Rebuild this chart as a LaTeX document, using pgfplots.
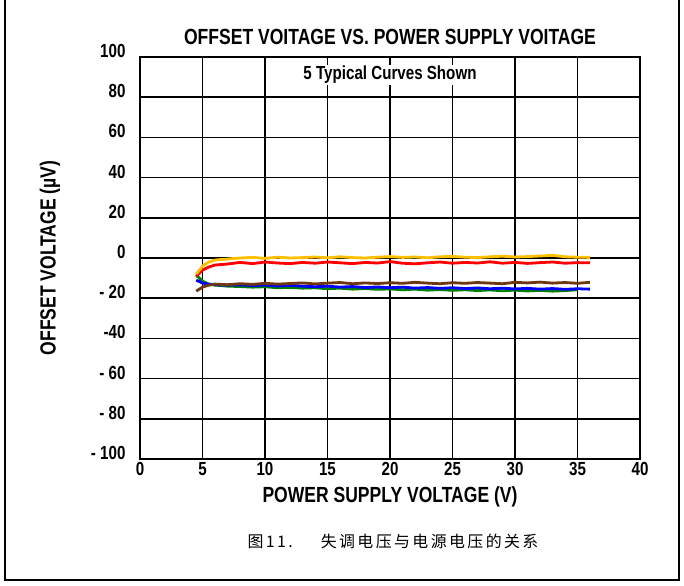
\documentclass[border=0pt]{standalone}
\usepackage{fontspec}
\setmainfont{Liberation Sans}[FakeStretch=0.8]
\newfontfamily\cjk{Noto Sans CJK SC}[LetterSpace=15]
\usepackage{pgfplots}
\pgfplotsset{compat=1.18}

\definecolor{cyel}{RGB}{255,192,0}
\definecolor{cred}{RGB}{255,0,0}
\definecolor{cbrown}{RGB}{112,56,16}
\definecolor{cblue}{RGB}{0,0,255}
\definecolor{cgreen}{RGB}{0,128,0}

\begin{document}
\begin{tikzpicture}
\path[use as bounding box] (0,0) rectangle (684bp,586bp);
\begin{axis}[
    at={(140bp,127bp)}, anchor=south west,
    scale only axis,
    width=500bp, height=402bp,
    xmin=0, xmax=40, ymin=-100, ymax=100,
    xtick={0,5,...,40},
    xticklabels={0,5,10,15,20,25,30,35,40},
    ytick={-100,-80,...,100},
    yticklabels={- 100,- 80,- 60,-40,- 20,0,20,40,60,80,100},
    /pgf/number format/assume math mode=true,
    tick style={draw=none},
    grid=major,
    grid style={black, line width=1.5bp},
    axis line style={black, line width=2.5bp},
    ticklabel style={font=\bfseries\fontsize{19}{21}\selectfont},
    yticklabel style={xshift=-11bp, yshift=6bp},
    title={OFFSET VOITAGE VS. POWER SUPPLY VOITAGE},
    title style={font=\bfseries\fontsize{22}{24}\selectfont, yshift=3bp},
    xlabel={POWER SUPPLY VOLTAGE (V)},
    xlabel style={font=\bfseries\fontsize{22}{24}\selectfont, yshift=-4bp},
    ylabel={OFFSET VOLTAGE (µV)},
    ylabel style={font=\bfseries\fontsize{22}{24}\selectfont,
                  at={(axis description cs:-0.18,0.5)}, anchor=center},
    every axis plot/.append style={line width=2.8bp, line join=round},
]
% green
\addplot[cgreen] coordinates {
(4.5,-8.5) (5,-11.5) (5.5,-13) (6,-13.5) (7,-14) (8,-14.2) (9,-14.5) (10,-14.3)
(11,-14.8) (12,-14.6) (13,-15.0) (14,-14.8) (15,-15.3) (16,-15.0) (17,-15.5)
(18,-15.2) (19,-15.6) (20,-15.4) (21,-15.8) (22,-15.5) (23,-16.0) (24,-15.7)
(25,-16.1) (26,-15.8) (27,-16.2) (28,-15.9) (29,-16.3) (30,-16.0) (31,-16.4)
(32,-16.1) (33,-16.5) (34,-16.2) (35,-15.8)
};
% blue
\addplot[cblue] coordinates {
(4.5,-11) (5,-12.5) (5.5,-13) (6,-13.3) (7,-13.5) (8,-13.4) (9,-13.7) (10,-13.5)
(11,-13.9) (12,-13.6) (13,-14.0) (14,-14.3) (15,-14.0) (16,-14.5) (17,-14.2)
(18,-14.7) (19,-14.4) (20,-14.8) (21,-14.5) (22,-15.0) (23,-14.7) (24,-15.1)
(25,-14.8) (26,-15.2) (27,-14.9) (28,-15.3) (29,-15.0) (30,-15.4) (31,-15.1)
(32,-15.5) (33,-15.2) (34,-15.6) (35,-15.3) (36,-15.5)
};
% brown
\addplot[cbrown] coordinates {
(4.5,-16.5) (5,-14.5) (5.5,-13.5) (6,-13) (7,-13.3) (8,-12.8) (9,-13.1) (10,-12.6)
(11,-13) (12,-12.7) (13,-12.4) (14,-12.9) (15,-12.5) (16,-12.2) (17,-12.8)
(18,-12.4) (19,-12.7) (20,-12.3) (21,-12.6) (22,-12.1) (23,-12.5) (24,-12.8)
(25,-12.3) (26,-12.6) (27,-12.2) (28,-12.5) (29,-12.8) (30,-12.1) (31,-12.4)
(32,-12.0) (33,-12.5) (34,-12.2) (35,-12.6) (36,-12.1)
};
% red
\addplot[cred] coordinates {
(4.5,-9) (5,-6) (5.5,-4.5) (6,-3.5) (7,-3) (8,-2.2) (9,-2.8) (10,-2) (11,-2.5)
(12,-2.8) (13,-2.2) (14,-2.6) (15,-2.0) (16,-2.4) (17,-2.8) (18,-2.2) (19,-2.5)
(20,-1.8) (21,-2.6) (22,-2.9) (23,-2.4) (24,-2.0) (25,-2.6) (26,-2.2) (27,-2.5)
(28,-1.9) (29,-2.6) (30,-2.2) (31,-2.7) (32,-2.3) (33,-2.0) (34,-2.6) (35,-2.3)
(36,-2.4)
};
% yellow
\addplot[cyel] coordinates {
(4.5,-8) (5,-4) (5.5,-2) (6,-1) (7,-0.5) (8,0) (9,0.3) (10,-0.2) (11,0.4) (12,0)
(13,0.2) (14,0.5) (15,0.1) (16,0.6) (17,0.2) (18,0) (19,0.4) (20,0.7) (21,0.3)
(22,0.5) (23,0.1) (24,0.6) (25,0.8) (26,0.4) (27,0.2) (28,0.6) (29,0.9) (30,0.5)
(31,0.7) (32,1.0) (33,1.3) (34,0.6) (35,0.4) (36,0.3)
};
\node[fill=white, inner sep=1bp, font=\bfseries\fontsize{19}{21}\selectfont] at (axis cs:20,91) {5 Typical Curves Shown};
\end{axis}
\draw[line width=1.5bp] (5bp,586bp) -- (5bp,6bp) -- (679bp,6bp) -- (679bp,586bp);
\node[font=\cjk\fontsize{16}{18}\selectfont] at (393bp,45bp) {图11.\hspace{28bp}失调电压与电源电压的关系};
\end{tikzpicture}
\end{document}
